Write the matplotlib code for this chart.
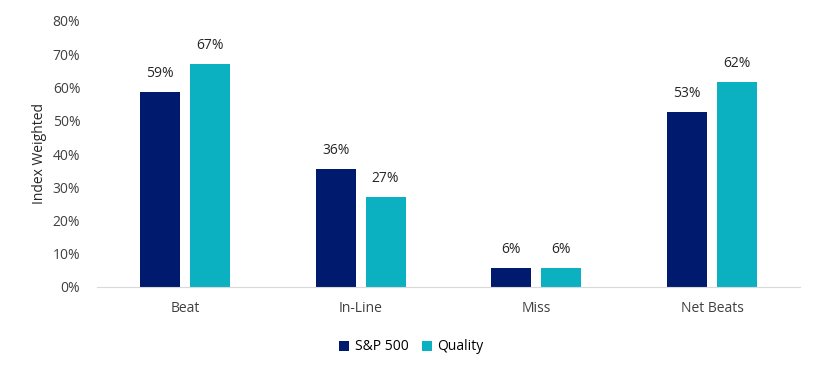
import numpy as np
import matplotlib.pyplot as plt

plt.rcParams['font.family'] = ['Open Sans', 'DejaVu Sans']

# dati
categories = ['Beat', 'In-Line', 'Miss', 'Net Beats']
sp500 = [58.6, 35.6, 5.8, 52.6]
quality = [67.2, 27.2, 5.6, 61.6]

col_sp = '#001A6E'
col_q = '#0BB1C1'

fig = plt.figure(figsize=(8.23, 3.76), dpi=100)
ax = fig.add_axes([97 / 823, 1 - 287 / 376, 703 / 823, 266 / 376])

x = np.arange(len(categories))
w = 0.227
off = 0.142
b1 = ax.bar(x - off, sp500, w, color=col_sp, label='S&P 500')
b2 = ax.bar(x + off, quality, w, color=col_q, label='Quality')

for bars in (b1, b2):
    for b in bars:
        ax.text(b.get_x() + b.get_width() / 2, b.get_height() + 3.3,
                f'{b.get_height():.0f}%', ha='center', va='bottom',
                fontsize=10, color='#262626')

ax.set_xlim(-0.5, 3.5)
ax.set_ylim(0, 80)
ax.set_yticks(range(0, 81, 10))
ax.set_yticklabels([f'{v}%' for v in range(0, 81, 10)])
ax.set_xticks(x)
ax.set_xticklabels(categories)
ax.tick_params(axis='both', length=0, labelsize=10, colors='#404040')
ax.tick_params(axis='x', pad=10)
ax.tick_params(axis='y', pad=12)
for s in ['top', 'right', 'left']:
    ax.spines[s].set_visible(False)
ax.spines['bottom'].set_color('#D9D9D9')
ax.set_ylabel('Index Weighted', fontsize=10, color='#262626', labelpad=4)

fig.legend(loc='center', bbox_to_anchor=(0.5, 1 - 347 / 376), ncol=2,
           frameon=False, fontsize=10, handlelength=0.7, handleheight=0.7,
           handletextpad=0.4, columnspacing=1.0)

plt.savefig('out.png', dpi=100)
